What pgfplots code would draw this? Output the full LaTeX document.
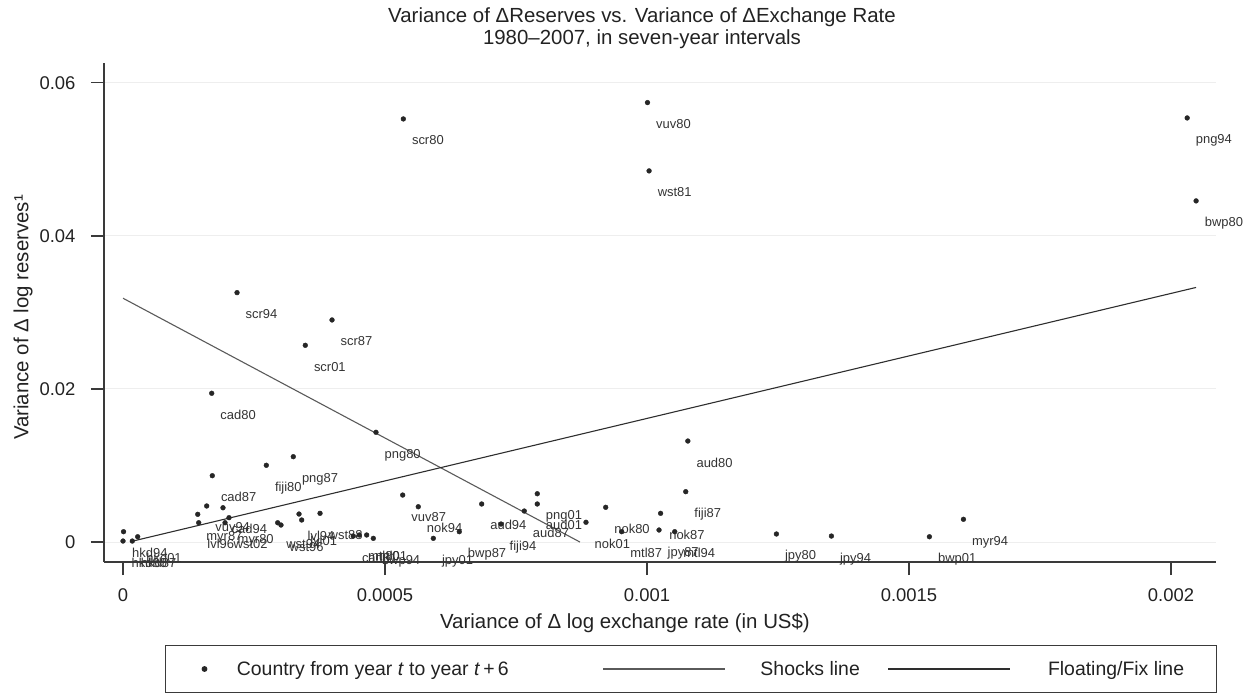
\documentclass[border=0pt]{standalone}
\usepackage{fontspec}
\setmainfont{Liberation Sans}
\usepackage{pgfplots}
\pgfplotsset{compat=1.18}
\usepackage{pgfplotstable}
\definecolor{ptcol}{HTML}{262626}
\definecolor{lblcol}{HTML}{333333}
\definecolor{txtcol}{HTML}{222222}
\definecolor{axcol}{HTML}{3A3A3A}
\definecolor{gridcol}{HTML}{EEEEEE}
\definecolor{shockcol}{HTML}{5A5A5A}
\definecolor{floatcol}{HTML}{2E2E2E}

\pgfplotstableread{
x y label
0.000535 0.05529 scr80
0.001001 0.05743 vuv80
0.001004 0.04850 wst81
0.002031 0.05542 png94
0.002048 0.04458 bwp80
0.0002176 0.03259 scr94
0.0003989 0.02902 scr87
0.0003479 0.02571 scr01
0.0001693 0.01944 cad80
0.0004828 0.01434 png80
0.000325 0.01115 png87
0.0002735 0.01003 fiji80
0.0001704 0.00867 cad87
0.001078 0.0132 aud80
0.001074 0.00658 fiji87
0.0001597 0.00471 vuv94
0.0001908 0.00448 cad94
0.0001426 0.00362 myr87
0.0002023 0.00318 myr80
0.0001445 0.00252 lvl96
0.0001947 0.00252 wst02
0.000001 0.00135 hkd94
0.0 0.00013 hkd80
0.0000177 0.00013 hkd87
0.000028 0.00069 hkd01
0.0002952 0.00252 wst94
0.0003015 0.00222 wst96
0.0003359 0.00366 lvl94
0.000341 0.00288 lvl01
0.000376 0.00375 wst88
0.0004395 0.00078 cad01
0.000451 0.00092 mtl80
0.000465 0.00092 mtl01
0.0004777 0.00048 bwp94
0.0005338 0.00614 vuv87
0.0005635 0.00461 nok94
0.0005922 0.00048 jpy01
0.0006418 0.00135 bwp87
0.0006845 0.00497 aud94
0.0007214 0.00235 fiji94
0.0007658 0.00405 aud87
0.0007906 0.00631 png01
0.0007906 0.00497 aud01
0.0008836 0.00258 nok01
0.0009212 0.00454 nok80
0.0009517 0.00135 mtl87
0.001023 0.00157 jpy87
0.001026 0.00375 nok87
0.001053 0.00135 mtl94
0.001247 0.00105 jpy80
0.001352 0.00078 jpy94
0.001539 0.00069 bwp01
0.001604 0.00297 myr94
}\pts

\begin{document}
\begin{tikzpicture}
\begin{axis}[
  name=ax,
  scale only axis, width=1112bp, height=499bp,
  xmin=-0.0000363, xmax=0.002086, ymin=-0.00261, ymax=0.0626,
  axis x line*=bottom, axis y line*=left,
  axis line style={color=axcol, line width=1.2bp},
  scaled x ticks=false, scaled y ticks=false,
  xtick={0,0.0005,0.001,0.0015,0.002},
  xticklabels={0,0.0005,0.001,0.0015,0.002},
  ytick={0,0.02,0.04,0.06},
  yticklabels={0,0.02,0.04,0.06},
  minor tick num=0,
  tick align=outside, major tick length=13bp,
  tick style={color=axcol, line width=1.2bp},
  ymajorgrids, major grid style={color=gridcol, line width=1bp},
  ticklabel style={font=\fontsize{18.5}{22}\selectfont, text=txtcol},
  xticklabel style={yshift=-10bp},
  yticklabel style={xshift=-12bp},
  xlabel={Variance of Δ log exchange rate (in US\$)},
  ylabel={Variance of Δ log reserves¹},
  label style={font=\fontsize{20.5}{24}\selectfont, text=txtcol},
  xlabel style={at={(axis description cs:0.4685,-0.1222)}, anchor=center},
  ylabel style={at={(axis description cs:-0.0728,0.49)}, anchor=center},
  title={Variance of ΔReserves vs. Variance of ΔExchange Rate\\1980–2007, in seven-year intervals},
  title style={font=\fontsize{20.5}{21.5}\selectfont, align=center, inner sep=0pt, anchor=south, at={(axis description cs:0.4838,1)}, yshift=8.5bp, text=txtcol},
  legend columns=3,
  legend style={at={(axis description cs:0.05486,-0.1663)}, anchor=north west, draw=axcol, line width=1bp, inner xsep=0pt, inner ysep=16.5bp, column sep=0pt, cells={anchor=center}, nodes={inner sep=0pt, text height=14bp, text depth=0pt, font=\fontsize{19.5}{22}\selectfont, text=txtcol}},
  clip=false,
]
\addplot[only marks, mark=*, mark size=2.4bp, color=ptcol,
  nodes near coords, point meta=explicit symbolic,
  nodes near coords style={anchor=base west, xshift=8.5bp, yshift=-26bp, inner sep=0pt, font=\fontsize{13}{15}\selectfont, text=lblcol},
  legend image code/.code={\path[draw=none,fill=none] (0bp,0bp) -- (71.4bp,0bp); \fill (39bp,0bp) circle (2.4bp);}
] table[x=x, y=y, meta=label] {\pts};
\addlegendentry{\makebox[334bp][l]{Country from year \textit{t} to year \textit{t}\,+\,6}}
\addplot[color=shockcol, line width=1.1bp,
  legend image code/.code={\path[draw=none,fill=none] (0bp,0bp) -- (189.6bp,0bp); \draw (32.6bp,0bp) -- (154.6bp,0bp);}
] coordinates {(0,0.03186) (0.000872,0)};
\addlegendentry{\makebox[127bp][l]{Shocks line}}
\addplot[color=floatcol, line width=1.1bp,
  legend image code/.code={\path[draw=none,fill=none] (0bp,0bp) -- (160bp,0bp); \draw (0bp,0bp) -- (122bp,0bp);}
] coordinates {(0.0000172,0.0001) (0.002048,0.03327)};
\addlegendentry{\makebox[168bp][l]{Floating/Fix line}}
\end{axis}
\pgfresetboundingbox
\path[use as bounding box] ([shift={(-104bp,-133bp)}]ax.south west) rectangle ([shift={(1139bp,562bp)}]ax.south west);
\end{tikzpicture}
\end{document}
